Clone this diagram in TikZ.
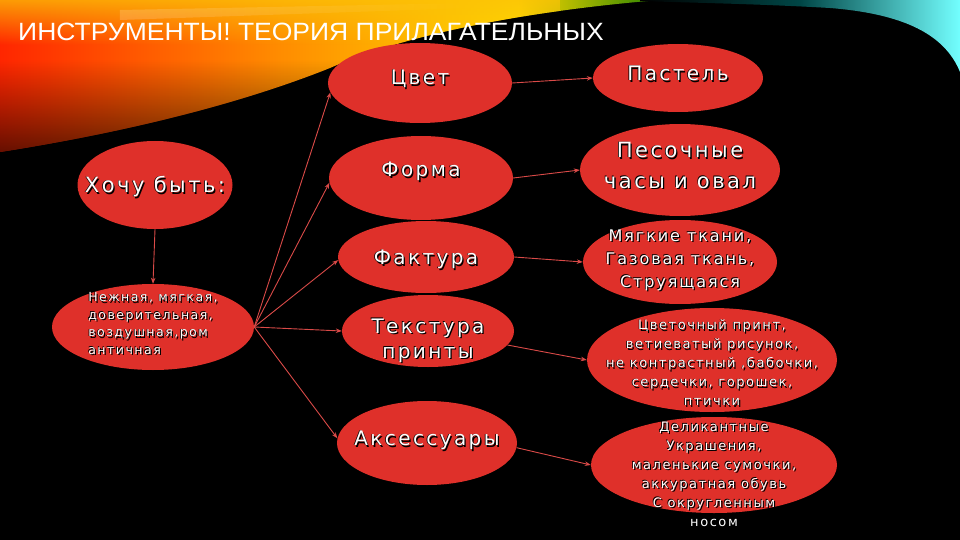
\documentclass[tikz,border=0pt]{standalone}
\usepackage{fontspec}
\setmainfont{DejaVu Sans}
\newfontfamily\ef{DejaVu Sans}[LetterSpace=12]
\newfontfamily\tf{Liberation Sans}
\usetikzlibrary{shapes.geometric,arrows.meta,fadings}
\definecolor{ovred}{HTML}{DF302A}
\definecolor{arred}{HTML}{DA4A48}
\pgfdeclarehorizontalshading{swoosh}{100bp}{color(0bp)=(red!80!black); color(25bp)=(red!70!orange); color(45bp)=(orange!90!yellow); color(62bp)=(yellow!70!orange); color(74bp)=(green!45!black); color(88bp)=(black); color(100bp)=(black)}
\newsavebox\tbw
\newsavebox\tbk
\newcommand\cpk[2]{\rlap{\kern#1\raisebox{#2}{\usebox\tbk}}}
% #1 raise, #2 alignment, #3 font size, #4 line skip, #5 text
\newcommand\zt[5][0pt]{%
  \sbox\tbw{\ef\fontsize{#3}{#4}\selectfont\color{white}\begin{tabular}{@{}#2@{}}#5\end{tabular}}%
  \sbox\tbk{\ef\fontsize{#3}{#4}\selectfont\color{black}\begin{tabular}{@{}#2@{}}#5\end{tabular}}%
  \makebox[0pt]{\raisebox{\dimexpr #1-0.5\ht\tbw+0.5\dp\tbw\relax}[0pt][0pt]{%
    \cpk{1.3pt}{-1.3pt}\cpk{-0.7pt}{0.7pt}\usebox\tbw}}}
\tikzset{
  ov/.style={ellipse, fill=ovred, inner sep=0pt, text=white},
  ar/.style={draw=arred, line width=0.9pt, -{Stealth[length=6pt,width=4.5pt]}},
  ttl/.style={text=white, inner sep=0pt, font=\tf\fontsize{25}{30}\selectfont}
}
\begin{document}
\begin{tikzpicture}[x=1pt,y=-1pt]
\useasboundingbox (0,0) rectangle (960,540);
\fill[black] (0,0) rectangle (960,540);
% background swoosh
\begin{scope}
\clip (0,0) -- (660,0) .. controls (560,8) and (420,28) .. (330,68) .. controls (250,100) and (140,130) .. (0,152) -- cycle;
\shade[shading=swoosh] (0,0) rectangle (700,152);
\fill[yellow!55!orange, path fading=south, opacity=0.75] (0,0) rectangle (560,45);
\fill[black, path fading=north, opacity=0.6] (0,60) rectangle (700,152);
\fill[white, opacity=0.18, path fading=east] (120,10) -- (470,3) -- (470,8) -- (120,20) -- cycle;
\end{scope}
\begin{scope}
\clip (640,0) -- (960,0) -- (960,72) .. controls (945,35) and (905,14) .. (830,8) .. controls (760,4) and (700,3) .. (640,1) -- cycle;
\shade[left color=black, right color=cyan!55!white, middle color=teal!55!black] (640,0) rectangle (960,72);
\end{scope}
\node[ttl, anchor=base west, xscale=1.06] (title) at (18,41) {ИНСТРУМЕНТЫ! ТЕОРИЯ ПРИЛАГАТЕЛЬНЫХ};
% left column
\node[ov, minimum width=155pt, minimum height=88pt] (want) at (155,185) {\zt[-3pt]{c}{21}{25}{Хочу быть:}};
\node[ov, minimum width=202pt, minimum height=86pt] (soft) at (153,327) {\zt[2.5pt]{l}{12.5}{17.5}{Нежная, мягкая,\\доверительная,\\воздушная,ром\\античная}};
% middle column
\node[ov, minimum width=184pt, minimum height=80pt] (cvet) at (420,83) {\zt[3pt]{c}{20}{24}{Цвет}};
\node[ov, minimum width=184pt, minimum height=84pt] (forma) at (421,178) {\zt[6pt]{c}{20}{24}{Форма}};
\node[ov, minimum width=176pt, minimum height=72pt] (faktura) at (426,257) {\zt[-3pt]{c}{20}{24}{Фактура}};
\node[ov, minimum width=172pt, minimum height=72pt] (tekst) at (428,331) {\zt[-9.5pt]{c}{20}{25}{Текстура\\принты}};
\node[ov, minimum width=180pt, minimum height=84pt] (aks) at (427,443) {\zt[2pt]{c}{20}{24}{Аксессуары}};
% right column
\node[ov, minimum width=170pt, minimum height=68pt] (pastel) at (678,78) {\zt[2pt]{c}{20}{24}{Пастель}};
\node[ov, minimum width=200pt, minimum height=92pt] (pesok) at (680,170) {\zt[3pt]{c}{21}{30}{Песочные\\часы и овал}};
\node[ov, minimum width=194pt, minimum height=84pt] (myag) at (680,262) {\zt[2pt]{c}{16}{23}{Мягкие ткани,\\Газовая ткань,\\Струящаяся}};
\node[ov, minimum width=250pt, minimum height=104pt] (cvetoch) at (712,360) {\zt[-4pt]{c}{13}{19}{Цветочный принт,\\ветиеватый рисунок,\\не контрастный ,бабочки,\\сердечки, горошек,\\птички}};
\node[ov, minimum width=246pt, minimum height=96pt] (delik) at (714,465) {\zt[-10pt]{c}{13}{19}{Деликантные\\Украшения,\\маленькие сумочки,\\аккуратная обувь\\С округленным\\носом}};
% connectors
\draw[ar] (want.south) -- (soft.north);
\draw[ar] (soft.east) -- (cvet.186);
\draw[ar] (soft.east) -- (forma.183);
\draw[ar] (soft.east) -- (faktura.182);
\draw[ar] (soft.east) -- (tekst.west);
\draw[ar] (soft.east) -- (aks.177);
\draw[ar] (cvet.east) -- (pastel.west);
\draw[ar] (forma.east) -- (pesok.west);
\draw[ar] (faktura.east) -- (myag.west);
\draw[ar] (tekst.-10) -- (cvetoch.west);
\draw[ar] (aks.-3) -- (delik.west);
\end{tikzpicture}
\end{document}
